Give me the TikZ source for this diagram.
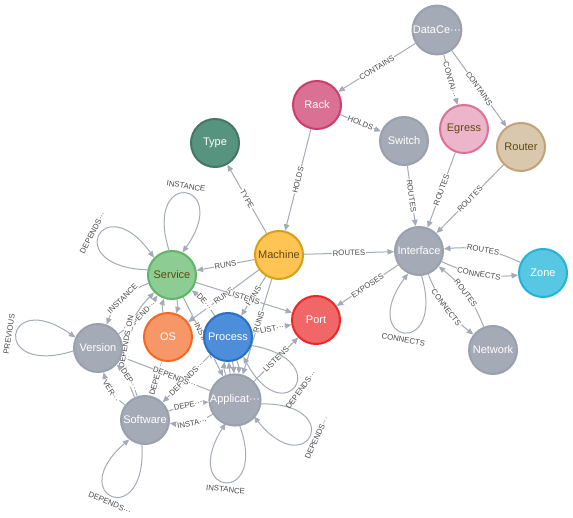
\documentclass[tikz,border=0pt]{standalone}
\usepackage{fontspec}
\setmainfont{Liberation Sans}
\usetikzlibrary{arrows.meta,calc}
\pgfdeclarelayer{bgl}
\pgfdeclarelayer{edges}
\pgfsetlayers{bgl,edges,main}
\definecolor{edgec}{HTML}{A5ABB6}
\definecolor{labc}{HTML}{4A4A4A}
\definecolor{grF}{HTML}{A5ABB6}\definecolor{grD}{HTML}{9AA1AC}
\definecolor{rkF}{HTML}{DA7194}\definecolor{rkD}{HTML}{CC3C6C}
\definecolor{egF}{HTML}{ECB5C9}\definecolor{egD}{HTML}{DA7298}
\definecolor{roF}{HTML}{D9C8AE}\definecolor{roD}{HTML}{C0A378}
\definecolor{tyF}{HTML}{569480}\definecolor{tyD}{HTML}{447666}
\definecolor{maF}{HTML}{FFC454}\definecolor{maD}{HTML}{D7A013}
\definecolor{zoF}{HTML}{57C7E3}\definecolor{zoD}{HTML}{23B3D7}
\definecolor{poF}{HTML}{F16667}\definecolor{poD}{HTML}{EB2728}
\definecolor{seF}{HTML}{8DCC93}\definecolor{seD}{HTML}{5DB665}
\definecolor{osF}{HTML}{F79767}\definecolor{osD}{HTML}{F36924}
\definecolor{prF}{HTML}{4C8EDA}\definecolor{prD}{HTML}{2870C2}
\definecolor{darktxt}{HTML}{604A0E}
\newcommand{\nloop}[4]{%
  \draw[edge] ($(#1)+(#2+16:25)$) .. controls ($(#1)+(#2+24:112)$) and ($(#1)+(#2-24:112)$) .. ($(#1)+(#2-16:25)$);
  \node[labl,rotate=#4] at ($(#1)+(#2:90)$) {#3};
}
\begin{document}
\begin{tikzpicture}[x=1pt,y=1pt,
  nd/.style={circle,minimum size=48pt,inner sep=0pt,line width=2pt,font=\fontsize{11}{13}\selectfont},
  gr/.style={nd,fill=grF,draw=grD,text=white},
  rk/.style={nd,fill=rkF,draw=rkD,text=white},
  eg/.style={nd,fill=egF,draw=egD,text=darktxt},
  ro/.style={nd,fill=roF,draw=roD,text=darktxt},
  ty/.style={nd,fill=tyF,draw=tyD,text=white},
  ma/.style={nd,fill=maF,draw=maD,text=darktxt},
  zo/.style={nd,fill=zoF,draw=zoD,text=white},
  po/.style={nd,fill=poF,draw=poD,text=white},
  se/.style={nd,fill=seF,draw=seD,text=darktxt},
  osn/.style={nd,fill=osF,draw=osD,text=white},
  pr/.style={nd,fill=prF,draw=prD,text=white},
  edge/.style={draw=edgec,line width=1pt,-{Triangle[length=6.5pt,width=5.5pt]}},
  lab/.style={font=\fontsize{7.8}{8}\selectfont,text=labc,fill=white,inner sep=0.6pt,sloped},
  labl/.style={font=\fontsize{7.8}{8}\selectfont,text=labc,inner sep=0.6pt},
]
\useasboundingbox (0,0) rectangle (573,-518);
\begin{pgfonlayer}{bgl}
\fill[white] (0,0) rectangle (573,-518);
\end{pgfonlayer}
% nodes
\node[gr] (dc) at (437,-30) {DataCe···};
\node[rk] (rack) at (317,-105) {Rack};
\node[gr] (switch) at (404,-141) {Switch};
\node[eg] (egress) at (464,-129) {Egress};
\node[ro] (router) at (521,-147) {Router};
\node[ty] (type) at (215,-143) {Type};
\node[ma] (machine) at (279,-255) {Machine};
\node[gr] (iface) at (419,-251) {Interface};
\node[zo] (zone) at (543,-273) {Zone};
\node[po] (port) at (316,-320) {Port};
\node[gr] (network) at (493,-350) {Network};
\node[se] (service) at (172,-275) {Service};
\node[osn] (os) at (168,-337) {OS};
\node[pr] (process) at (228,-337) {Process};
\node[gr] (version) at (98,-348) {Version};
\node[gr] (software) at (145,-420) {Software};
\node[gr] (app) at (235,-400) {Applicat···};
\begin{pgfonlayer}{edges}
% top part
\draw[edge] (dc) -- node[lab]{CONTAINS} (rack);
\draw[edge] (dc) -- node[lab]{CONTAI···} (egress);
\draw[edge] (dc) -- node[lab]{CONTAINS} (router);
\draw[edge] (rack) -- node[lab]{HOLDS} (switch);
\draw[edge] (rack) -- node[lab]{HOLDS} (machine);
\draw[edge] (switch) -- node[lab]{ROUTES} (iface);
\draw[edge] (egress) -- node[lab]{ROUTES} (iface);
\draw[edge] (router) -- node[lab]{ROUTES} (iface);
\draw[edge] (machine) -- node[lab]{TYPE} (type);
\draw[edge] (machine) -- node[lab]{ROUTES} (iface);
\draw[edge] (zone) to[bend right=15] node[lab]{ROUTES} (iface);
\draw[edge] (iface) to[bend right=15] node[lab]{CONNECTS} (zone);
\draw[edge] (iface) to[bend right=15] node[lab]{CONNECTS} (network);
\draw[edge] (network) to[bend right=15] node[lab]{ROUTES} (iface);
\draw[edge] (iface) -- node[lab]{EXPOSES} (port);
\nloop{iface}{260}{CONNECTS}{-10}
% machine
\draw[edge] (machine) -- node[lab]{RUNS} (service);
\draw[edge] (machine) -- node[lab]{RUNS} (os);
\draw[edge] (machine) -- node[lab]{RUNS} (process);
\draw[edge] (machine) -- node[lab,pos=0.45]{RUNS} (app);
\draw[edge] (service) -- node[lab]{LISTENS} (port);
\draw[edge] (process) -- node[lab]{LIST···} (port);
\draw[edge] (app) -- node[lab]{LISTENS} (port);
% dense cluster
\draw[edge] (service) to[bend left=15] (os);
\draw[edge] (os) to[bend left=15] (service);
\draw[edge] (app) to[bend left=14] (process);
\draw[edge] (app) to[bend left=4] (process);
\draw[edge] (process) to[bend left=4] (app);
\draw[edge] (process) to[bend left=14] (app);
\draw[edge] (process) -- node[lab]{DEPENDS···} (software);
\draw[edge] (os) -- node[lab]{DEPEN···} (software);
\draw[edge] (app) -- node[lab,pos=0.4]{DEPENDS···} (version);
\draw[edge] (service) -- node[lab,pos=0.55]{INSTANCE} (app);
\draw[edge] (process) to[bend right=10] node[lab]{DE···} (service);
\draw[edge] (service) to[bend right=25] node[lab]{INSTANCE} (version);
\draw[edge] (version) to[bend right=10] node[lab]{DEPEND···} (service);
\draw[edge] (software) to[bend left=35] node[lab]{DEPENDS\_ON} (service);
\draw[edge] (software) to[bend left=20] node[lab]{VER···} (version);
\draw[edge] (software) to[bend right=15] node[lab]{DEP···} (version);
\draw[edge] (app) to[bend left=20] node[lab]{INSTA···} (software);
\draw[edge] (software) to[bend left=8] node[lab]{DEPE···} (app);
% loops
\nloop{service}{81}{INSTANCE}{-9}
\nloop{service}{152}{DEPENDS···}{62}
\nloop{version}{171}{PREVIOUS}{81}
\nloop{software}{247}{DEPENDS···}{-23}
\nloop{app}{264}{INSTANCE}{-6}
\nloop{app}{-25}{DEPENDS···}{65}
\nloop{process}{-36}{DEPENDS···}{54}
\end{pgfonlayer}
\end{tikzpicture}
\end{document}
